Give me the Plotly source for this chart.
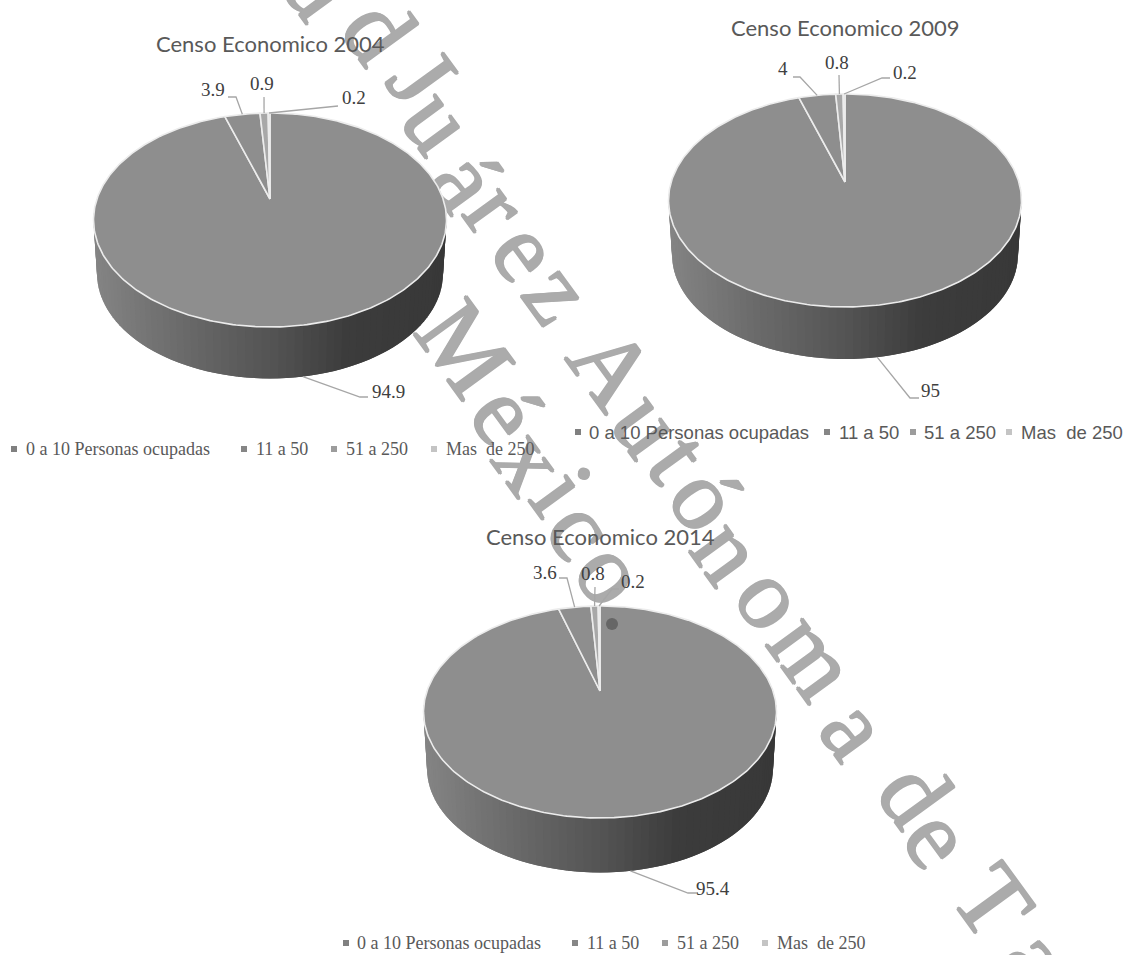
import numpy as np
import plotly.graph_objects as go

# Establishment size classes shown in each census legend
categories = ["0 a 10 Personas ocupadas", "11 a 50", "51 a 250", "Mas  de 250"]
years = ["2004", "2009", "2014"]
shares_2004 = [94.9, 3.9, 0.9, 0.2]
shares_2009 = [95, 4, 0.8, 0.2]
shares_2014 = [95.4, 3.6, 0.8, 0.2]

slice_fill = ["#8e8e8e", "#8e8e8e", "#a8a8a8", "#d4d4d4"]
legend_fill = ["#808080", "#868686", "#9c9c9c", "#c4c4c4"]

# Wall shading, left to right across the disc
wall_stops = [0.0, 0.25, 0.5, 0.72, 1.0]
wall_grays = [132, 106, 84, 60, 56]

# Disc geometry in page pixels
HALF_WIDTH = 176.5
WALL_SCALE = 0.98
pies = [
    dict(year=years[0], shares=shares_2004, cx=270, cy=199, far=86, near=128, bottom=378.5,
         title=(270, 43), legend_y=449, legend_font="Liberation Serif", legend_size=18,
         legend_boxes=[14, 244, 334, 434], legend_text=[24, 254, 344, 444],
         labels=[(388, 391), (213, 89), (262, 83), (354, 97)],
         elbows=[[(360, 397), (368, 397)], [(236, 97), (228, 97)], [(264, 97)], [(338, 106)]]),
    dict(year=years[1], shares=shares_2009, cx=845, cy=182, far=88, near=125, bottom=359,
         title=(845, 27), legend_y=432, legend_font="Liberation Sans", legend_size=18.5,
         legend_boxes=[578, 827, 913, 1009], legend_text=[587, 837, 922, 1019],
         labels=[(930, 390), (783, 68), (837, 62), (905, 72)],
         elbows=[[(910, 398), (919, 398)], [(800, 77), (793, 77)], [(839, 75)], [(882, 78), (890, 78)]]),
    dict(year=years[2], shares=shares_2014, cx=600, cy=691, far=85, near=127, bottom=872.5,
         title=(600, 536), legend_y=943, legend_font="Liberation Serif", legend_size=18,
         legend_boxes=[346, 575, 665, 765], legend_text=[355, 585, 675, 775],
         labels=[(713, 888), (545, 572), (593, 573), (633, 581)],
         elbows=[[(688, 893), (698, 893)], [(567, 578), (559, 578)], [(595, 587)], [(612, 589), (619, 589)]]),
]

# Large diagonal lettering behind the charts: glyph, centre x, centre y
backdrop_letters = [
    ("a", 312, -2), ("d", 370, 40), ("J", 413, 87), ("u", 430, 130), ("á", 457, 190),
    ("r", 488, 217), ("e", 518, 260), ("z", 550, 302), ("A", 603, 377), ("u", 640, 433),
    ("t", 670, 467), ("ó", 697, 508), ("n", 720, 560), ("o", 763, 607), ("m", 805, 665),
    ("a", 847, 738), ("d", 906, 803), ("e", 930, 847), ("T", 984, 911), ("a", 1028, 968),
    ("M", 456, 358), ("é", 497, 423), ("x", 522, 470), ("i", 553, 500), ("c", 573, 538),
    ("o", 603, 582),
]
# The label box centres sit below the glyph centres once rotated
LETTER_SHIFT = (18, -16)
# Four-way halo that thickens the thin strokes of the backdrop glyphs
LETTER_HALO = "1px 0 #ababab, -1px 0 #ababab, 0 1px #ababab, 0 -1px #ababab"


def projector(pie, cy, scale):
    """Perspective projection of a circle onto the page, theta clockwise from 12 o'clock."""
    p = (pie["near"] - pie["far"]) / (pie["near"] + pie["far"])
    a = HALF_WIDTH * np.sqrt(1 - p ** 2) * scale
    b = pie["far"] * (1 + p) * scale

    def rim(theta_deg):
        t = np.radians(theta_deg)
        w = 1 + p * np.cos(t)
        return pie["cx"] + a * np.sin(t) / w, cy - b * np.cos(t) / w

    return rim


def wall_color(frac):
    g = int(round(np.interp(frac, wall_stops, wall_grays)))
    return f"rgb({g},{g},{g})"


fig = go.Figure()
annotations = []
shapes = []

for letter, x, y in backdrop_letters:
    x += LETTER_SHIFT[0]
    y += LETTER_SHIFT[1]
    shapes.append(dict(
        type="rect", layer="below", xref="x", yref="y",
        x0=x - 1, x1=x + 1, y0=y - 1, y1=y + 1,
        line=dict(width=0), fillcolor="rgba(0,0,0,0)",
        label=dict(text=letter, textangle=54, textposition="middle center",
                   font=dict(family="Liberation Serif", size=100, color="#ababab",
                             shadow=LETTER_HALO)),
    ))

for pie in pies:
    top = projector(pie, pie["cy"], 1.0)
    lower_cy = pie["bottom"] - WALL_SCALE * pie["near"]
    low = projector(pie, lower_cy, WALL_SCALE)

    # Side wall: overlapping shaded strips along the front of the disc, no outlines
    edges = np.linspace(80, 280, 91)
    step = edges[1] - edges[0]
    for a0 in edges[:-1]:
        th = np.linspace(a0, min(a0 + 2 * step, 280), 5)
        tx, ty = top(th)
        lx, ly = low(th)
        fx, _ = top(a0 + step / 2)
        frac = (fx - (pie["cx"] - HALF_WIDTH)) / (2 * HALF_WIDTH)
        fig.add_trace(go.Scatter(
            x=np.r_[tx, lx[::-1]], y=np.r_[ty, ly[::-1]], mode="lines", fill="toself",
            fillcolor=wall_color(frac), line=dict(width=0), hoverinfo="skip", showlegend=False))

    # Top face: one wedge per size class, running clockwise from 12 o'clock
    cum = np.r_[0, np.cumsum(pie["shares"])]
    total = cum[-1]
    for i, share in enumerate(pie["shares"]):
        th = np.linspace(cum[i], cum[i + 1], max(3, int(share * 4))) * 360 / total
        rx, ry = top(th)
        fig.add_trace(go.Scatter(
            x=np.r_[pie["cx"], rx, pie["cx"]], y=np.r_[pie["cy"], ry, pie["cy"]],
            mode="lines", fill="toself", fillcolor=slice_fill[i],
            line=dict(color="#ececec", width=1.6), name=categories[i],
            hoverinfo="skip", showlegend=False))

    # Leader lines start from the middle of each wedge's rim
    for i, share in enumerate(pie["shares"]):
        mid = (cum[i] + share / 2) * 360 / total
        sx, sy = (low if i == 0 else top)(mid)
        pts = [(float(sx), float(sy))] + pie["elbows"][i]
        fig.add_trace(go.Scatter(
            x=[q[0] for q in pts], y=[q[1] for q in pts], mode="lines",
            line=dict(color="#a6a6a6", width=1.3), hoverinfo="skip", showlegend=False))
        lx, ly = pie["labels"][i]
        annotations.append(dict(
            x=lx, y=ly, text=f"{share:g}", showarrow=False, xanchor="center", yanchor="middle",
            font=dict(family="Liberation Serif", size=19, color="#404040")))

    # Chart title
    tx, ty = pie["title"]
    annotations.append(dict(
        x=tx, y=ty, text=f"Censo Economico {pie['year']}", showarrow=False,
        xanchor="center", yanchor="middle",
        font=dict(family="Lato", size=22, color="#595959")))

    # Legend row
    fig.add_trace(go.Scatter(
        x=pie["legend_boxes"], y=[pie["legend_y"]] * 4, mode="markers",
        marker=dict(symbol="square", size=6, color=legend_fill),
        hoverinfo="skip", showlegend=False))
    for name, x in zip(categories, pie["legend_text"]):
        annotations.append(dict(
            x=x, y=pie["legend_y"], text=name.replace("  ", "\u00a0\u00a0"), showarrow=False,
            xanchor="left", yanchor="middle",
            font=dict(family=pie["legend_font"], size=pie["legend_size"], color="#595959")))

# Dark dot on the 2014 disc
fig.add_trace(go.Scatter(
    x=[612], y=[624], mode="markers", marker=dict(size=12, color="#666666"),
    hoverinfo="skip", showlegend=False))

fig.update_layout(
    width=1129, height=955, margin=dict(l=0, r=0, t=0, b=0),
    paper_bgcolor="white", plot_bgcolor="white", showlegend=False,
    xaxis=dict(range=[0, 1129], visible=False, fixedrange=True),
    yaxis=dict(range=[955, 0], visible=False, fixedrange=True),
    annotations=annotations, shapes=shapes,
)

fig.write_html("out.html", config=dict(displayModeBar=False))
